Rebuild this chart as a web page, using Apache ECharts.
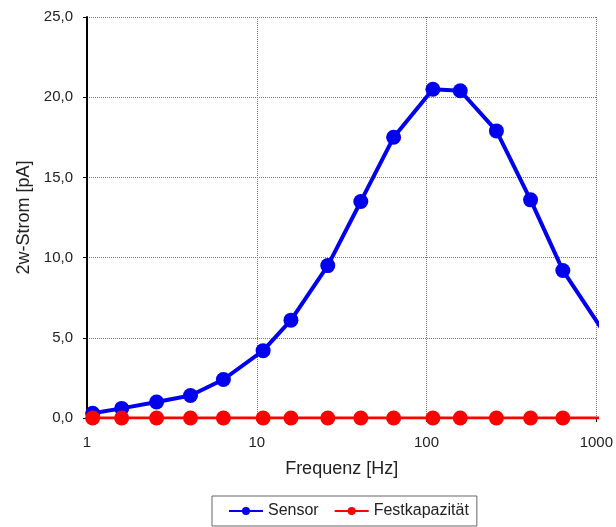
<!DOCTYPE html>
<html>
<head>
<meta charset="utf-8">
<script src="https://cdn.jsdelivr.net/npm/echarts@6/dist/echarts.min.js"></script>
<style>
html,body{margin:0;padding:0;background:#fff;}
#c{width:616px;height:527px;}
</style>
</head>
<body>
<div id="c"></div>
<script>
// Data
const frequencies = [1.08, 1.6, 2.57, 4.07, 6.36, 10.9, 15.9, 26.2, 41, 64, 109, 158, 258, 410, 635, 1100];
const sensorValues = [0.3, 0.6, 1.0, 1.4, 2.4, 4.2, 6.1, 9.5, 13.5, 17.5, 20.5, 20.4, 17.9, 13.6, 9.2, 5.4];
const festValues = [0, 0, 0, 0, 0, 0, 0, 0, 0, 0, 0, 0, 0, 0, 0, 0];
const seriesNames = ['Sensor', 'Festkapazität'];
const xAxisTitle = 'Frequenz [Hz]';
const yAxisTitle = '2w-Strom [pA]';

const FONT = '"Liberation Sans", Arial, sans-serif';
const chart = echarts.init(document.getElementById('c'), null, {renderer: 'canvas'});

function pairs(xs, ys) { return xs.map((x, i) => [x, ys[i]]); }

chart.setOption({
  animation: false,
  backgroundColor: '#fff',
  textStyle: {fontFamily: FONT},
  grid: {left: 87, right: 18, top: 17, bottom: 109, containLabel: false},
  xAxis: {
    type: 'log', logBase: 10, min: 1, max: 1000,
    name: xAxisTitle, nameLocation: 'middle', nameGap: 42,
    nameTextStyle: {fontSize: 18, color: '#222', fontFamily: FONT},
    axisLine: {show: true, lineStyle: {color: '#000', width: 1.5}},
    axisTick: {show: true, inside: false, length: 4, lineStyle: {color: '#000'}},
    minorTick: {show: false},
    axisLabel: {fontSize: 15, color: '#222', margin: 17, fontFamily: FONT,
      formatter: v => String(Math.round(v))},
    splitLine: {show: true, lineStyle: {color: '#777', type: 'dotted', width: 1}}
  },
  yAxis: {
    type: 'value', min: 0, max: 25, interval: 5,
    name: yAxisTitle, nameLocation: 'middle', nameGap: 52, nameRotate: 90,
    nameTextStyle: {fontSize: 18, color: '#222', fontFamily: FONT},
    axisLine: {show: true, lineStyle: {color: '#000', width: 2}},
    axisTick: {show: true, inside: false, length: 4, lineStyle: {color: '#000'}},
    axisLabel: {fontSize: 15, color: '#222', margin: 14, fontFamily: FONT,
      formatter: v => v.toFixed(1).replace('.', ',')},
    splitLine: {show: true, lineStyle: {color: '#777', type: 'dotted', width: 1}}
  },
  legend: {
    show: true, left: 212, top: 496,
    padding: [7, 8, 7, 16],
    borderColor: '#666', borderWidth: 1,
    itemWidth: 34, itemHeight: 10, itemGap: 15,
    textStyle: {fontSize: 16, color: '#222', fontFamily: FONT},
    data: seriesNames
  },
  series: [
    {
      name: seriesNames[0], type: 'line', data: pairs(frequencies, sensorValues),
      symbol: 'circle', symbolSize: 15, clip: true,
      lineStyle: {color: '#0000ee', width: 4},
      itemStyle: {color: '#0000ee'}
    },
    {
      name: seriesNames[1], type: 'line', data: pairs(frequencies, festValues),
      symbol: 'circle', symbolSize: 15, clip: true,
      lineStyle: {color: '#ff0000', width: 3},
      itemStyle: {color: '#ff0000'}
    }
  ]
});
</script>
</body>
</html>
